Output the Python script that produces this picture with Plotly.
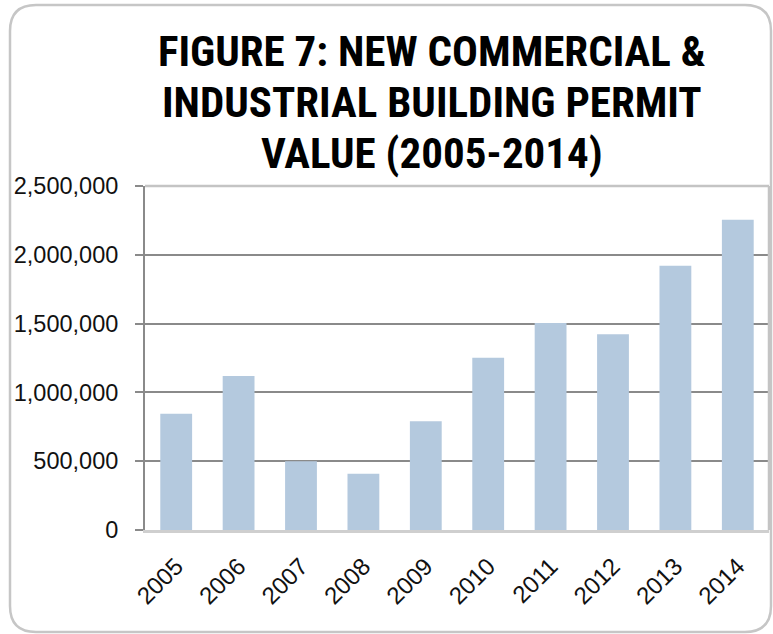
import plotly.graph_objects as go

years = ["2005", "2006", "2007", "2008", "2009", "2010", "2011", "2012", "2013", "2014"]
permit_values = [845000, 1120000, 500000, 408000, 790000, 1252000, 1505000, 1422000, 1920000, 2255000]
y_ticks = [0, 500000, 1000000, 1500000, 2000000, 2500000]
y_tick_labels = ["0", "500,000", "1,000,000", "1,500,000", "2,000,000", "2,500,000"]
title_lines = ["FIGURE 7: NEW COMMERCIAL &", "INDUSTRIAL BUILDING PERMIT", "VALUE (2005-2014)"]

W, H = 773, 634
ML, MR, MT, MB = 145, 4, 186, 104
PW, PH = W - ML - MR, H - MT - MB


def px(x):
    return (x - ML) / PW


def py(y):
    return (H - MB - y) / PH


fig = go.Figure()
fig.add_trace(go.Bar(
    x=years, y=permit_values, width=0.51,
    marker=dict(color="#b4c9de", line=dict(width=0)),
    hoverinfo="x+y",
))

# rounded outer frame (pixel positions converted to paper coordinates)
x0, y0, x1, y1, r = 10, 5, 771, 632, 26
path = (
    f"M {px(x0 + r)} {py(y0)} L {px(x1 - r)} {py(y0)} "
    f"Q {px(x1)} {py(y0)} {px(x1)} {py(y0 + r)} "
    f"L {px(x1)} {py(y1 - r)} Q {px(x1)} {py(y1)} {px(x1 - r)} {py(y1)} "
    f"L {px(x0 + r)} {py(y1)} Q {px(x0)} {py(y1)} {px(x0)} {py(y1 - r)} "
    f"L {px(x0)} {py(y0 + r)} Q {px(x0)} {py(y0)} {px(x0 + r)} {py(y0)} Z"
)
shapes = [
    dict(type="path", xref="paper", yref="paper", path=path,
         line=dict(color="#c6c6c6", width=2.5), layer="below"),
    dict(type="line", xref="paper", yref="paper", x0=0, x1=1, y0=1, y1=1,
         line=dict(color="#c4c4c4", width=2.5), layer="above"),
    dict(type="line", xref="paper", yref="paper", x0=1, x1=1, y0=0, y1=1,
         line=dict(color="#c4c4c4", width=2.5), layer="above"),
]

title_centers = [51, 102, 153]
annotations = [
    dict(text=t, xref="paper", yref="paper", x=px(432), y=py(cy),
         xanchor="center", yanchor="middle", showarrow=False,
         font=dict(family="Roboto Condensed, Liberation Sans Narrow, sans-serif",
                   size=43, color="#000000", weight="bold"))
    for t, cy in zip(title_lines, title_centers)
]

fig.update_layout(
    width=W, height=H,
    margin=dict(l=ML, r=MR, t=MT, b=MB, pad=0),
    paper_bgcolor="white", plot_bgcolor="white",
    showlegend=False,
    shapes=shapes,
    annotations=annotations,
    font=dict(family="Liberation Sans, Arial, sans-serif", size=23, color="#111111"),
)

fig.update_yaxes(
    range=[0, 2500000], tickvals=y_ticks, ticktext=y_tick_labels,
    showgrid=True, gridcolor="#8a8a8a", gridwidth=2,
    showline=True, linecolor="#8a8a8a", linewidth=2,
    ticks="outside", ticklen=8, tickcolor="#8a8a8a", tickwidth=2,
    zeroline=False, ticklabelstandoff=12,
    tickfont=dict(size=23.5),
)
fig.update_xaxes(
    type="category", tickangle=-45,
    showline=True, linecolor="#cfcfcf", linewidth=2.5,
    ticks="", showgrid=False, ticklabelstandoff=10,
    tickfont=dict(size=24),
)

fig.write_html("out.html", config={"displayModeBar": False},
               post_script="document.body.style.margin='0';")
